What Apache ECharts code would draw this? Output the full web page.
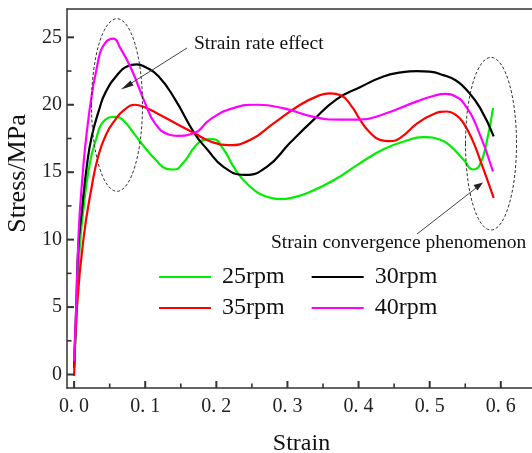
<!DOCTYPE html>
<html>
<head>
<meta charset="utf-8">
<script src="https://cdn.jsdelivr.net/npm/echarts@6/dist/echarts.min.js"></script>
<style>
  html, body { margin: 0; padding: 0; background: #fff; }
  #chart { width: 532px; height: 453px; }
</style>
</head>
<body>
<div id="chart"></div>
<script>
// strain / stress pairs
const rpm25 = [[0, 0.5], [0.004, 5], [0.008, 9.5], [0.013, 12.2], [0.02, 15], [0.03, 17.3], [0.044, 18.9],
  [0.058, 19.1], [0.07, 18.8], [0.085, 17.8], [0.1, 16.8], [0.115, 15.9], [0.13, 15.25], [0.14, 15.2],
  [0.155, 15.8], [0.17, 16.9], [0.183, 17.4], [0.195, 17.45], [0.21, 16.7], [0.222, 15.6], [0.235, 14.6],
  [0.255, 13.6], [0.27, 13.2], [0.29, 13.0], [0.31, 13.15], [0.33, 13.5], [0.365, 14.4], [0.4, 15.6],
  [0.435, 16.7], [0.465, 17.3], [0.491, 17.6], [0.515, 17.4], [0.53, 16.9], [0.548, 15.9], [0.561, 15.2],
  [0.57, 15.5], [0.58, 17.2], [0.589, 19.75]];
const rpm30 = [[0, 0.5], [0.003, 5], [0.006, 9.5], [0.011, 12.2], [0.018, 15.5], [0.025, 17.7], [0.035, 19.6],
  [0.044, 20.9], [0.062, 22.3], [0.075, 22.85], [0.088, 23.0], [0.1, 22.8], [0.119, 22.1], [0.142, 20.4],
  [0.169, 17.9], [0.187, 16.7], [0.21, 15.4], [0.24, 14.8], [0.271, 15.4], [0.304, 17.2], [0.337, 18.9],
  [0.369, 20.4], [0.402, 21.3], [0.435, 22.1], [0.46, 22.4], [0.482, 22.5], [0.5, 22.45], [0.519, 22.2],
  [0.537, 21.8], [0.552, 21.1], [0.571, 19.75], [0.59, 17.65]];
const rpm35 = [[0, -0.1], [0.004, 5], [0.013, 10], [0.025, 14], [0.034, 16.2], [0.045, 17.8], [0.058, 18.9],
  [0.07, 19.6], [0.085, 20.0], [0.1, 19.8], [0.119, 19.3], [0.147, 18.5], [0.169, 17.9], [0.191, 17.3],
  [0.217, 17.0], [0.248, 17.4], [0.28, 18.6], [0.318, 20.0], [0.345, 20.7], [0.36, 20.85], [0.375, 20.7],
  [0.39, 19.9], [0.402, 18.9], [0.415, 18.0], [0.43, 17.4], [0.444, 17.3], [0.46, 17.6], [0.482, 18.6],
  [0.505, 19.3], [0.524, 19.5], [0.538, 19.2], [0.548, 18.6], [0.56, 17.4], [0.571, 15.9], [0.59, 13.1]];
const rpm40 = [[0, 1], [0.003, 5], [0.006, 10], [0.01, 13.5], [0.02, 18.9], [0.034, 23.3], [0.044, 24.6],
  [0.055, 24.9], [0.065, 24.2], [0.081, 22.6], [0.1, 20.1], [0.114, 18.6], [0.133, 17.8], [0.145, 17.7],
  [0.169, 17.9], [0.191, 18.9], [0.224, 19.75], [0.257, 20.0], [0.294, 19.75], [0.337, 19.1], [0.374, 18.9],
  [0.402, 18.9], [0.435, 19.3], [0.482, 20.25], [0.505, 20.65], [0.522, 20.8], [0.537, 20.6], [0.548, 20.1],
  [0.566, 18.4], [0.589, 15.05]];

const seriesNames = ['25rpm', '30rpm', '35rpm', '40rpm'];
const seriesData = [rpm25, rpm30, rpm35, rpm40];
const seriesColors = ['#00ee00', '#000000', '#ff0000', '#ff00ff'];

const xTicks = [0, 0.1, 0.2, 0.3, 0.4, 0.5, 0.6];
const xMinorTicks = [0.05, 0.15, 0.25, 0.35, 0.45, 0.55];
const yTicks = [0, 5, 10, 15, 20, 25];
const yMinorTicks = [2.5, 7.5, 12.5, 17.5, 22.5];

const X_MIN = -0.01, X_MAX = 0.672;
const Y_MIN = -1, Y_MAX = 27.1;

const FONT = '"Liberation Serif", "DejaVu Serif", serif';
const AXIS_COLOR = '#333';

const chart = echarts.init(document.getElementById('chart'));

// inward tick marks, drawn as tiny rects sitting on the axis lines
function tickSeries(points, size, offset) {
  return {
    type: 'scatter',
    data: points,
    symbol: 'rect',
    symbolSize: size,
    symbolOffset: offset,
    clip: false,
    silent: true,
    z: 4,
    itemStyle: { color: AXIS_COLOR, opacity: 1 }
  };
}

const lineSeries = seriesNames.map((name, i) => ({
  name: name,
  type: 'line',
  data: seriesData[i],
  smooth: 0.5,
  symbol: 'none',
  z: 3,
  color: seriesColors[i],
  lineStyle: { width: 2.2, color: seriesColors[i] }
}));

const option = {
  animation: false,
  backgroundColor: '#fff',
  grid: {
    left: 67, top: 9, right: -20, bottom: 65,
    outerBoundsMode: 'none'
  },
  xAxis: [
    {
      type: 'value', min: X_MIN, max: X_MAX, position: 'bottom', splitLine: { show: false },
      name: 'Strain',
      nameLocation: 'middle',
      nameGap: 44,
      nameTextStyle: { fontFamily: FONT, fontSize: 24, color: '#111', padding: [0, 16, 0, 0] },
      axisLine: { onZero: false, lineStyle: { color: AXIS_COLOR, width: 1.5 } },
      axisTick: { show: false },
      axisLabel: {
        customValues: xTicks, margin: 9, fontFamily: FONT, fontSize: 20, color: '#222',
        formatter: v => v.toFixed(1).replace('.', '. ')
      }
    },
    // top frame line
    {
      type: 'value', min: X_MIN, max: X_MAX, position: 'top', splitLine: { show: false },
      axisLine: { show: true, onZero: false, lineStyle: { color: AXIS_COLOR, width: 1.5 } },
      axisTick: { show: false },
      axisLabel: { show: false }
    }
  ],
  yAxis: {
    type: 'value', min: Y_MIN, max: Y_MAX, position: 'left', splitLine: { show: false },
    name: 'Stress/MPa',
    nameLocation: 'middle',
    nameGap: 35,
    nameTextStyle: { fontFamily: FONT, fontSize: 26, color: '#111', padding: [0, 0, 0, 50] },
    axisLine: { onZero: false, lineStyle: { color: AXIS_COLOR, width: 1.5 } },
    axisTick: { show: false },
    axisLabel: {
      customValues: yTicks, margin: 5, fontFamily: FONT, fontSize: 20, color: '#222',
      padding: [4, 0, 0, 0]
    }
  },
  legend: [
    {
      data: ['25rpm', '30rpm'], left: 158, top: 265, padding: 0,
      itemWidth: 52, itemHeight: 14, itemGap: 26,
      itemStyle: { opacity: 0 },
      textStyle: { fontFamily: FONT, fontSize: 24, color: '#111', padding: [0, 0, 0, 6] }
    },
    {
      data: ['35rpm', '40rpm'], left: 158, top: 296, padding: 0,
      itemWidth: 52, itemHeight: 14, itemGap: 26,
      itemStyle: { opacity: 0 },
      textStyle: { fontFamily: FONT, fontSize: 24, color: '#111', padding: [0, 0, 0, 6] }
    }
  ],
  series: lineSeries.concat([
    tickSeries(xTicks.map(v => [v, Y_MIN]), [2, 7], [0, -3.5]),
    tickSeries(xMinorTicks.map(v => [v, Y_MIN]), [1.6, 4.5], [0, -2.25]),
    tickSeries(yTicks.map(v => [X_MIN, v]), [7, 2], [3.5, 0]),
    tickSeries(yMinorTicks.map(v => [X_MIN, v]), [4.5, 1.6], [2.25, 0])
  ]),
  graphic: [
    {
      type: 'ellipse', shape: { cx: 117, cy: 105, rx: 25.5, ry: 86.3 },
      style: { fill: 'none', stroke: '#333', lineWidth: 1, lineDash: [3, 2] }, z: 100
    },
    {
      type: 'ellipse', shape: { cx: 491, cy: 143.7, rx: 25.5, ry: 86.3 },
      style: { fill: 'none', stroke: '#333', lineWidth: 1, lineDash: [3, 2] }, z: 100
    },
    {
      type: 'line', shape: { x1: 187, y1: 48, x2: 126, y2: 86.5 },
      style: { stroke: '#444', lineWidth: 1 }, z: 100
    },
    {
      type: 'polygon', shape: { points: [[121, 89.5], [130.5, 80.5], [133.5, 85.5]] },
      style: { fill: '#222' }, z: 100
    },
    {
      type: 'line', shape: { x1: 417, y1: 234, x2: 478, y2: 186.5 },
      style: { stroke: '#444', lineWidth: 1 }, z: 100
    },
    {
      type: 'polygon', shape: { points: [[483, 182.5], [473.5, 185], [477.5, 190.5]] },
      style: { fill: '#222' }, z: 100
    },
    {
      type: 'text', left: 194, top: 34,
      style: { text: 'Strain rate effect', font: '19.5px ' + FONT, fill: '#111' }, z: 100
    },
    {
      type: 'text', left: 271, top: 233,
      style: { text: 'Strain convergence phenomenon', font: '19.5px ' + FONT, fill: '#111' }, z: 100
    }
  ]
};

chart.setOption(option);
</script>
</body>
</html>
